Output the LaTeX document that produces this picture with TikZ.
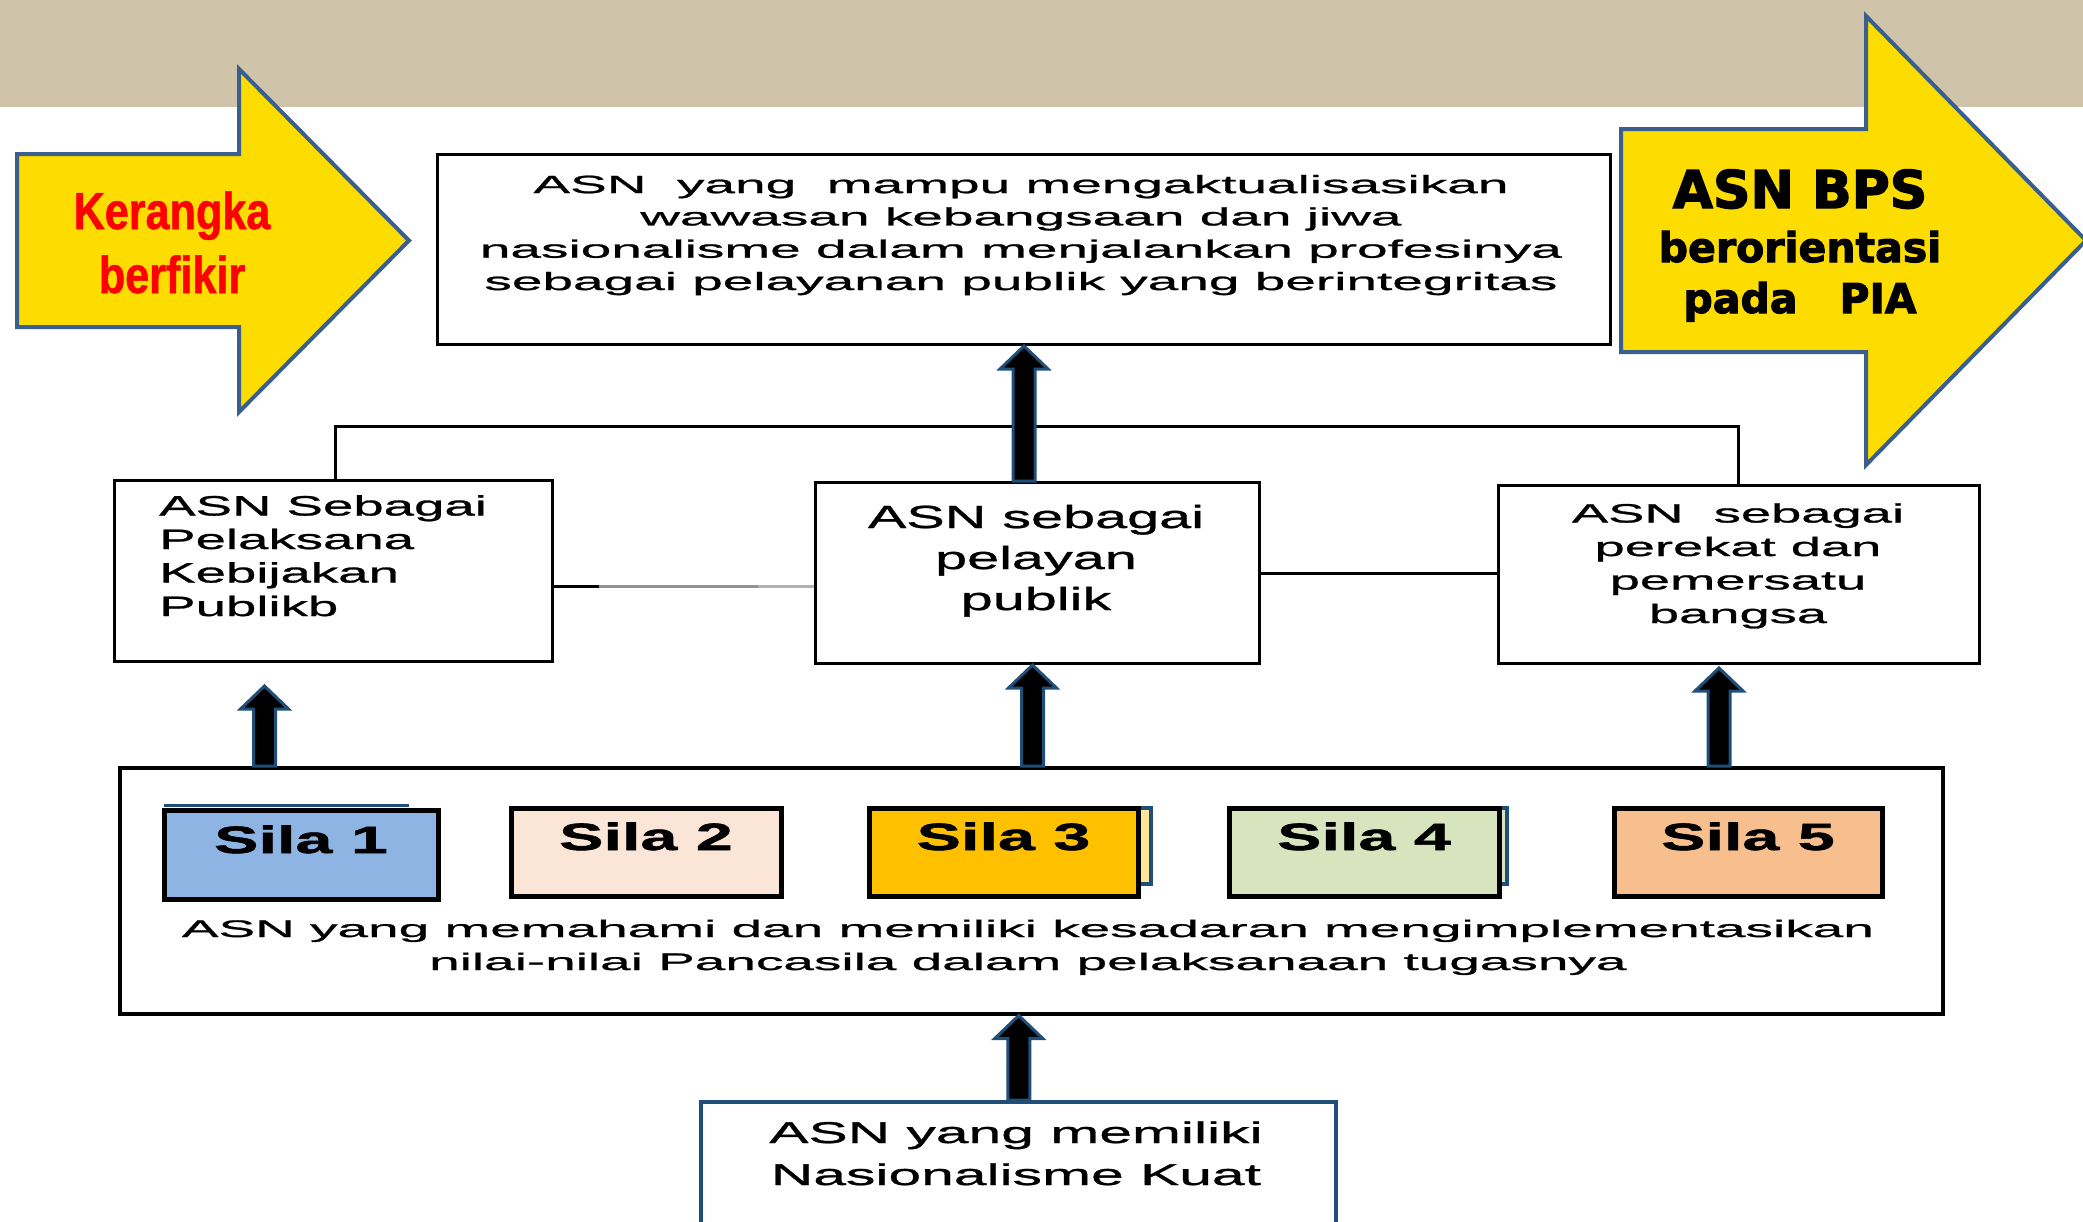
\documentclass[tikz,border=0pt]{standalone}
\usepackage{fontspec}
\setmainfont{Liberation Sans}
\newfontfamily\fTop[FakeStretch=2.2,FakeBold=1]{Liberation Sans}
\newfontfamily\fLeft[FakeStretch=1.95,FakeBold=1]{Liberation Sans}
\newfontfamily\fMid[FakeStretch=1.8,FakeBold=1]{Liberation Sans}
\newfontfamily\fRight[FakeStretch=2.05,FakeBold=1]{Liberation Sans}
\newfontfamily\fBig[FakeStretch=2.29,FakeBold=1]{Liberation Sans}
\newfontfamily\fBot[FakeStretch=1.96,FakeBold=1]{Liberation Sans}
\newfontfamily\fSila[FakeStretch=1.75,FakeBold=1.5]{Liberation Sans}
\newfontfamily\fNarrow[FakeStretch=0.83,FakeBold=1]{Liberation Sans}
\newfontfamily\fHeavy[FakeBold=2.5]{DejaVu Sans}
\usetikzlibrary{calc}
\definecolor{beige}{HTML}{CFC4A9}
\definecolor{yel}{HTML}{FDDD00}
\definecolor{yblue}{HTML}{3B5F8D}
\definecolor{arrblue}{HTML}{1F4E79}
\definecolor{sA}{HTML}{8EB4E3}
\definecolor{sB}{HTML}{FBE5D6}
\definecolor{sC}{HTML}{FFC000}
\definecolor{sCb}{HTML}{FFE699}
\definecolor{sD}{HTML}{D7E4BD}
\definecolor{sE}{HTML}{F8BF8E}
\newcommand\blkarrow[2]{%
  \draw[blockarr] ($(#1)+(-11,0)$) -- ($(#2)+(-11,23)$) -- ($(#2)+(-24,23)$) -- (#2)
    -- ($(#2)+(24,23)$) -- ($(#2)+(11,23)$) -- ($(#1)+(11,0)$) -- cycle;}
\begin{document}
\begin{tikzpicture}[x=1pt,y=-1pt,
  box/.style={draw=black, line width=3pt, fill=white, inner sep=0pt, anchor=north west},
  silabox/.style={draw=black, line width=5pt, inner sep=0pt, anchor=north west},
  conn/.style={line width=3pt, draw=black},
  blockarr/.style={fill=black, draw=arrblue, line width=3pt, line join=miter},
  yarrow/.style={fill=yel, draw=yblue, line width=4pt, line join=miter},
  txt/.style={inner sep=0pt, anchor=base, align=center},
  silatxt/.style={inner sep=0pt, anchor=base, font=\fSila\bfseries\fontsize{38}{40}\selectfont}]
\useasboundingbox (0,0) rectangle (2083,1221);
% header band
\fill[beige] (0,0) rectangle (2083,107);
% yellow arrows
\draw[yarrow] (17,154) -- (239,154) -- (239,69) -- (409,240.5) -- (239,412) -- (239,327) -- (17,327) -- cycle;
\draw[yarrow] (1621,129) -- (1866,129) -- (1866,16) -- (2086,240.5) -- (1866,465) -- (1866,352) -- (1621,352) -- cycle;
\node[txt, text=red, font=\fNarrow\bfseries\fontsize{52}{64}\selectfont] (kb) at (172,293) {Kerangka\\berfikir};
\node[txt, font=\fHeavy\bfseries\fontsize{52}{60}\selectfont] (bps1) at (1800,208) {ASN BPS};
\node[txt, font=\fHeavy\bfseries\fontsize{41}{50}\selectfont] (bps2) at (1800,262) {berorientasi};
\node[txt, font=\fHeavy\bfseries\fontsize{41}{50}\selectfont] (bps3) at (1800,313) {pada\hspace{42pt}PIA};
% boxes
\node[box, minimum width=1173, minimum height=190] (top) at (436,153) {};
\node[box, minimum width=438, minimum height=181] (lbox) at (113,479) {};
\node[box, minimum width=444, minimum height=181] (mid) at (814,481) {};
\node[box, minimum width=481, minimum height=178] (rbox) at (1497,484) {};
\node[box, line width=3.5pt, minimum width=1823, minimum height=246] (big) at (118,766) {};
\node[box, draw=arrblue, line width=4pt, minimum width=635, minimum height=160] (bot) at (699,1100) {};
% connectors
\coordinate (cl) at ($(lbox.north west)+(222,0)$);
\coordinate (cr) at ($(rbox.north west)+(241,0)$);
\draw[conn] (cl) -- (cl |- 0,426) -- (cr |- 0,426) -- (cr);
\coordinate (le) at ($(lbox.east)+(0,15.5)$);
\coordinate (g1) at ($(le)+(45,0)$);
\coordinate (g2) at ($(le)+(204,0)$);
\draw[conn] (le) -- (g1);
\draw[conn, draw=gray!85] (g1) -- (g2);
\draw[conn, draw=gray!60] (g2) -- (g2 -| mid.west);
\draw[conn] (mid.east) -- (mid.east -| rbox.west);
% sila boxes
\draw[draw=arrblue, line width=3pt] (164,805) -- (409,805);
\draw[draw=arrblue, fill=sCb, line width=4pt] (1100,808) rectangle (1151,884);
\draw[draw=arrblue, fill=sD, line width=4pt] (1450,808) rectangle (1507,884);
\node[silabox, fill=sA, minimum width=274, minimum height=89] (s1) at (161.5,807.5) {};
\node[silabox, fill=sB, minimum width=270, minimum height=88] (s2) at (508.5,805.5) {};
\node[silabox, fill=sC, minimum width=269, minimum height=88] (s3) at (866.5,805.5) {};
\node[silabox, fill=sD, minimum width=270, minimum height=88] (s4) at (1226.5,805.5) {};
\node[silabox, fill=sE, minimum width=268, minimum height=88] (s5) at (1611.5,805.5) {};
\node[silatxt] (t1) at (s1.center |- 0,853) {Sila 1};
\node[silatxt] (t2) at (s2.center |- 0,850) {Sila 2};
\node[silatxt] (t3) at (s3.center |- 0,850) {Sila 3};
\node[silatxt] (t4) at (s4.center |- 0,850) {Sila 4};
\node[silatxt] (t5) at (s5.center |- 0,850) {Sila 5};
% block arrows
\coordinate (a1t) at (top.south);
\coordinate (a1b) at (top.south |- mid.north);
\blkarrow{a1b}{a1t}
\coordinate (a2t) at ($(lbox.south)+(-69,23)$);
\coordinate (a2b) at (a2t |- big.north);
\blkarrow{a2b}{a2t}
\coordinate (a3t) at ($(mid.south)+(-5,0)$);
\coordinate (a3b) at (a3t |- big.north);
\blkarrow{a3b}{a3t}
\coordinate (a4t) at ($(rbox.south)+(-20,3)$);
\coordinate (a4b) at (a4t |- big.north);
\blkarrow{a4b}{a4t}
\coordinate (a5t) at ($(big.south)+(-12.5,0)$);
\coordinate (a5b) at (a5t |- bot.north);
\blkarrow{a5b}{a5t}
% texts (anchor base = last line baseline)
\node[txt, font=\fTop\fontsize{25}{32.3}\selectfont] (ttop) at (1021,290)
  {ASN\ \ yang\ \ mampu mengaktualisasikan\\wawasan kebangsaan dan jiwa\\nasionalisme dalam menjalankan profesinya\\sebagai pelayanan publik yang berintegritas};
\node[inner sep=0pt, anchor=base west, align=left, font=\fLeft\fontsize{28}{33.5}\selectfont] (tl) at (159,616)
  {ASN Sebagai\\Pelaksana\\Kebijakan\\Publikb};
\node[txt, font=\fMid\fontsize{32}{41}\selectfont] (tm) at (1036,610) {ASN sebagai\\pelayan\\publik};
\node[txt, font=\fRight\fontsize{26.5}{33.5}\selectfont] (tr) at (1738,623) {ASN\ \ sebagai\\perekat dan\\pemersatu\\bangsa};
\node[txt, font=\fBig\fontsize{24}{33}\selectfont] (tb) at (1028,970)
  {ASN yang memahami dan memiliki kesadaran mengimplementasikan\\nilai-nilai Pancasila dalam pelaksanaan tugasnya};
\node[txt, font=\fBot\fontsize{30}{42}\selectfont] (tbot) at (1016,1185) {ASN yang memiliki\\Nasionalisme Kuat};
\end{tikzpicture}
\end{document}
